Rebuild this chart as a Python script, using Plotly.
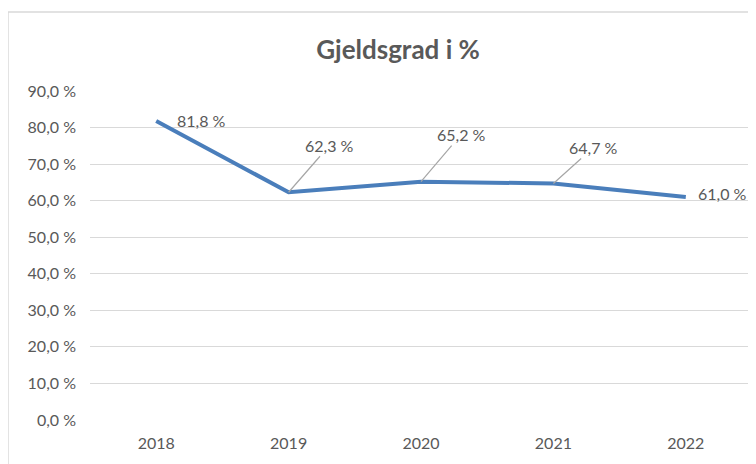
import plotly.graph_objects as go

# data
years = ["2018", "2019", "2020", "2021", "2022"]
gjeldsgrad = [81.8, 62.3, 65.2, 64.7, 61.0]
y_ticks = [0, 10, 20, 30, 40, 50, 60, 70, 80, 90]
y_tick_labels = ["0,0 %", "10,0 %", "20,0 %", "30,0 %", "40,0 %",
                 "50,0 %", "60,0 %", "70,0 %", "80,0 %", "90,0 %"]

FONT = "Lato, 'Open Sans', sans-serif"
GREY = "#595959"

fig = go.Figure()

fig.add_trace(go.Scatter(
    x=years, y=gjeldsgrad, mode="lines",
    line=dict(color="#4a7ebb", width=4),
    hoverinfo="skip",
))

# data labels: (dx, dy, leader line?)
label_offsets = [(45, 0, False), (41, -47, True), (40, -47, True), (40, -36, True), (37, -4, False)]
for i, (v, (dx, dy, leader)) in enumerate(zip(gjeldsgrad, label_offsets)):
    txt = f"{v:.1f} %".replace(".", ",")
    if leader:
        fig.add_annotation(
            x=i, y=v, text=txt, showarrow=True, arrowhead=0,
            arrowwidth=1.2, arrowcolor="#a6a6a6", ax=dx, ay=dy,
            standoff=0, font=dict(family=FONT, size=16, color=GREY),
        )
    else:
        fig.add_annotation(
            x=i, y=v, text=txt, showarrow=False, xshift=dx, yshift=-dy,
            font=dict(family=FONT, size=16, color=GREY),
        )

# chart border (Excel chart area)
fig.add_shape(type="rect", xref="paper", yref="paper",
              x0=-0.1239, x1=1.2, y0=-0.5, y1=1.24,
              line=dict(color="#d9d9d9", width=1.5), layer="below")

fig.update_layout(
    width=756, height=464,
    margin=dict(l=82, r=12, t=83, b=52),
    paper_bgcolor="white", plot_bgcolor="white",
    showlegend=False,
    title=dict(text="<b>Gjeldsgrad i %</b>", x=0.516, xanchor="center",
               y=0.909, yanchor="middle",
               font=dict(family=FONT, size=26, color=GREY)),
    xaxis=dict(type="category", range=[-0.5, 4.5], showgrid=False,
               showline=False, ticks="", zeroline=False, ticklabelstandoff=12,
               tickfont=dict(family=FONT, size=16, color=GREY)),
    yaxis=dict(range=[0, 90], tickvals=y_ticks, ticktext=y_tick_labels,
               showgrid=True, gridcolor="#d9d9d9", gridwidth=1.2,
               zeroline=False, showline=False, ticks="", ticklabelstandoff=13,
               tickfont=dict(family=FONT, size=16, color=GREY)),
)

fig.write_html("out.html")
